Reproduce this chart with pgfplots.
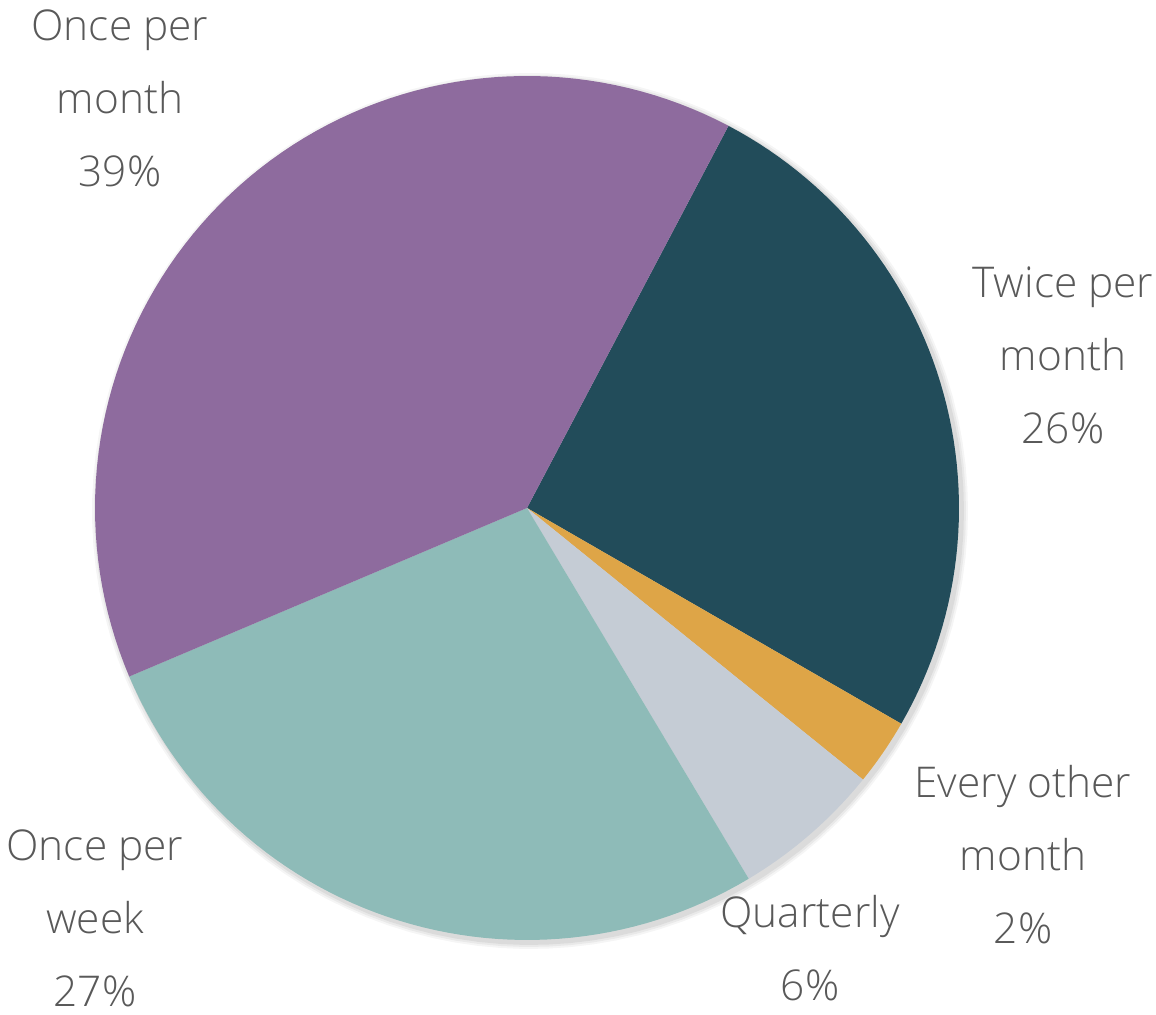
\documentclass[border=0pt]{standalone}
\usepackage{fontspec}
\setmainfont{Open Sans}[UprightFont={* Light}]
\usepackage{pgfplots}
\pgfplotsset{compat=1.18}
\usepackage{pgfplotstable}

\definecolor{cMonth}{HTML}{8E6B9E}
\definecolor{cTwice}{HTML}{224C5A}
\definecolor{cOther}{HTML}{DEA547}
\definecolor{cQuart}{HTML}{C5CCD5}
\definecolor{cWeek}{HTML}{8EBBB8}
\definecolor{txt}{HTML}{595959}

\tikzset{lbl/.style={font=\fontsize{10.6pt}{18.25pt}\selectfont, text=txt, align=center, inner sep=0pt}}

% share of each answer, clockwise from the top
\pgfplotstableread{
label          pct
TwicePerMonth  25.6
EveryOther     2.5
Quarterly      5.6
OncePerWeek    27.2
OncePerMonth   39.1
}\slices

% cumulative angles
\def\aStart{62.2}
\pgfmathsetmacro{\aA}{\aStart-3.6*25.6}
\pgfmathsetmacro{\aB}{\aA-3.6*2.5}
\pgfmathsetmacro{\aC}{\aB-3.6*5.6}
\pgfmathsetmacro{\aD}{\aC-3.6*27.2}
\pgfmathsetmacro{\aE}{\aD-3.6*39.1}
\def\cx{527}
\def\cy{507}
\def\rr{432}

\begin{document}
\begin{tikzpicture}
\begin{axis}[
  scale only axis, width=289pt, height=253.75pt,
  xmin=0, xmax=1156, ymin=0, ymax=1015,
  hide axis, clip=false,
]
\path (axis cs:0,0) rectangle (axis cs:1156,1015);
% soft shadow
\addplot[draw=none, fill=black, fill opacity=0.04, domain=0:360, samples=120, variable=\t]
  ({\cx+3+(\rr+6)*cos(t)},{\cy-3+(\rr+6)*sin(t)}) -- cycle;
\addplot[draw=none, fill=black, fill opacity=0.05, domain=0:360, samples=120, variable=\t]
  ({\cx+3+(\rr+4)*cos(t)},{\cy-3+(\rr+4)*sin(t)}) -- cycle;
\addplot[draw=none, fill=black, fill opacity=0.06, domain=0:360, samples=120, variable=\t]
  ({\cx+3+(\rr+2)*cos(t)},{\cy-3+(\rr+2)*sin(t)}) -- cycle;

\addplot[draw=none, fill=cTwice, domain=\aA:\aStart, samples=60, variable=\t]
  ({\cx+\rr*cos(t)},{\cy+\rr*sin(t)}) -- (axis cs:\cx,\cy) -- cycle;
\addplot[draw=none, fill=cOther, domain=\aB:\aA, samples=10, variable=\t]
  ({\cx+\rr*cos(t)},{\cy+\rr*sin(t)}) -- (axis cs:\cx,\cy) -- cycle;
\addplot[draw=none, fill=cQuart, domain=\aC:\aB, samples=15, variable=\t]
  ({\cx+\rr*cos(t)},{\cy+\rr*sin(t)}) -- (axis cs:\cx,\cy) -- cycle;
\addplot[draw=none, fill=cWeek, domain=\aD:\aC, samples=60, variable=\t]
  ({\cx+\rr*cos(t)},{\cy+\rr*sin(t)}) -- (axis cs:\cx,\cy) -- cycle;
\addplot[draw=none, fill=cMonth, domain=\aE:\aD, samples=80, variable=\t]
  ({\cx+\rr*cos(t)},{\cy+\rr*sin(t)}) -- (axis cs:\cx,\cy) -- cycle;

\node[lbl] at (axis cs:120,917) {Once per\\month\\39\%};
\node[lbl] at (axis cs:1063,660) {Twice per\\month\\26\%};
\node[lbl] at (axis cs:1023,160) {Every other\\month\\2\%};
\node[lbl] at (axis cs:810,67) {Quarterly\\6\%};
\node[lbl] at (axis cs:95,97) {Once per\\week\\27\%};
\end{axis}
\end{tikzpicture}
\end{document}
